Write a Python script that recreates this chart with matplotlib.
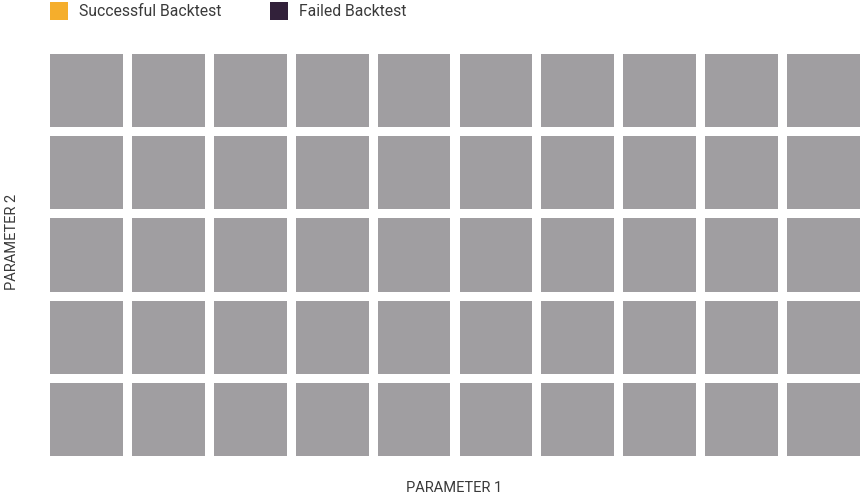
import matplotlib
matplotlib.use("Agg")
import matplotlib.pyplot as plt
from matplotlib.patches import Patch
import numpy as np

# Data
param1_values = list(range(1, 11))   # columns
param2_values = list(range(1, 6))    # rows
# status of each backtest: 0 = not run (gray), 1 = successful, 2 = failed
status = [
    [0, 0, 0, 0, 0, 0, 0, 0, 0, 0],
    [0, 0, 0, 0, 0, 0, 0, 0, 0, 0],
    [0, 0, 0, 0, 0, 0, 0, 0, 0, 0],
    [0, 0, 0, 0, 0, 0, 0, 0, 0, 0],
    [0, 0, 0, 0, 0, 0, 0, 0, 0, 0],
]
legend_labels = ["Successful Backtest", "Failed Backtest"]

status_colors = {0: "#a09ea1", 1: "#f5ae2c", 2: "#32213a"}
text_color = "#3a3a3a"
plt.rcParams['font.family'] = ['Roboto', 'DejaVu Sans']

fig = plt.figure(figsize=(8.6, 4.98), dpi=100)
ax = fig.add_axes([50/860, 42/498, 810/860, 402/498])

w = 0.89
for r, p2 in enumerate(param2_values):
    xs = np.arange(len(param1_values))
    cols = [status_colors[s] for s in status[r]]
    ax.bar(xs, w, width=w, bottom=len(param2_values) - 1 - r, align='edge',
           color=cols, edgecolor='none')

ax.set_xlim(0, len(param1_values) - 1 + w)
ax.set_ylim(0, len(param2_values) - 1 + w)
ax.axis('off')

fig.text(454/860, 1 - 488/498, "PARAMETER 1", ha='center', va='center',
         fontsize=10.5, color=text_color)
fig.text(12/860, 1 - 242/498, "PARAMETER 2", ha='center', va='center',
         rotation=90, fontsize=10.5, color=text_color)

handles = [Patch(facecolor=status_colors[1], edgecolor='none'),
           Patch(facecolor=status_colors[2], edgecolor='none')]
fig.legend(handles, legend_labels, loc='upper left', ncol=2,
           bbox_to_anchor=(50/860, 1 - 2/498), bbox_transform=fig.transFigure,
           frameon=False, borderaxespad=0, borderpad=0,
           handlelength=1.15, handleheight=1.35, handletextpad=0.7,
           columnspacing=3.1, fontsize=11.3, labelcolor=text_color)

fig.savefig("out.png", dpi=100)
